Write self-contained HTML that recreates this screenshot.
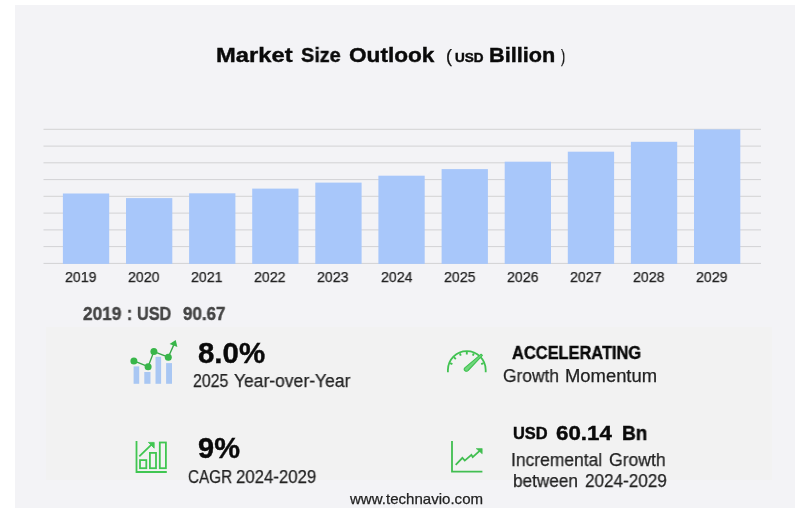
<!DOCTYPE html>
<html>
<head>
<meta charset="utf-8">
<title>Market Size Outlook</title>
<style>
html,body{margin:0;padding:0;background:#fff;}
body{width:805px;height:508px;position:relative;overflow:hidden;font-family:"Liberation Sans", sans-serif;}
#panel{position:absolute;left:15px;top:5px;width:780px;height:503px;background:#f3f3f6;}
#shade{position:absolute;left:45.5px;top:327px;width:726.5px;height:153px;background:#f2f2f2;}
.t{position:absolute;white-space:pre;line-height:1;margin:0;transform-origin:0 0;will-change:transform;-webkit-font-smoothing:antialiased;}
svg{position:absolute;left:0;top:0;}
</style>
</head>
<body>
<div id="panel"></div>
<div id="shade"></div>
<svg width="805" height="508" viewBox="0 0 805 508">
<g stroke="#d2d2d4" stroke-width="1">
<line x1="43.5" y1="129.3" x2="761" y2="129.3"/>
<line x1="43.5" y1="146.1" x2="761" y2="146.1"/>
<line x1="43.5" y1="162.8" x2="761" y2="162.8"/>
<line x1="43.5" y1="179.6" x2="761" y2="179.6"/>
<line x1="43.5" y1="196.3" x2="761" y2="196.3"/>
<line x1="43.5" y1="213.1" x2="761" y2="213.1"/>
<line x1="43.5" y1="229.9" x2="761" y2="229.9"/>
<line x1="43.5" y1="246.6" x2="761" y2="246.6"/>
<line x1="43.5" y1="263.4" x2="761" y2="263.4"/>
</g>
<g fill="#a8c7fa">
<rect x="62.9" y="193.5" width="46.3" height="70.4"/>
<rect x="126.0" y="198.1" width="46.3" height="65.8"/>
<rect x="189.1" y="193.3" width="46.3" height="70.6"/>
<rect x="252.2" y="188.6" width="46.3" height="75.3"/>
<rect x="315.3" y="182.6" width="46.3" height="81.3"/>
<rect x="378.4" y="175.7" width="46.3" height="88.2"/>
<rect x="441.6" y="169.1" width="46.3" height="94.8"/>
<rect x="504.7" y="161.7" width="46.3" height="102.2"/>
<rect x="567.8" y="151.7" width="46.3" height="112.2"/>
<rect x="630.9" y="141.8" width="46.3" height="122.1"/>
<rect x="694.0" y="129.4" width="46.3" height="134.5"/>
</g>
<!-- icon 1: bars with trend line -->
<g id="icon-yoy">
<g fill="#a9c7f3">
<rect x="133.6" y="366.4" width="5.6" height="17.4"/>
<rect x="144.3" y="372" width="6.2" height="11.8"/>
<rect x="155.5" y="356.8" width="5.6" height="27"/>
<rect x="166.1" y="363.1" width="5.9" height="20.7"/>
</g>
<polyline points="133.9,360.9 148.1,366.7 153.9,351.6 168.3,357.2 174.3,343.6" fill="none" stroke="#3aa84a" stroke-width="1.4"/>
<g fill="#38b649">
<circle cx="133.9" cy="360.9" r="3.5"/>
<circle cx="148.1" cy="366.7" r="3.5"/>
<circle cx="153.9" cy="351.6" r="3.5"/>
<circle cx="168.3" cy="357.2" r="3.5"/>
<polygon points="169.6,343.9 175.7,339.9 177.4,347.1"/>
</g>
</g>
<!-- icon 2: outline bar chart with arrow -->
<g id="icon-cagr" fill="none" stroke="#40c651" stroke-width="1.8">
<polyline points="136.5,441.1 136.5,472 166.8,472"/>
<rect x="140" y="460.1" width="6.3" height="8.1"/>
<rect x="149.9" y="452.9" width="6.1" height="15.3"/>
<rect x="159.8" y="442.5" width="6.1" height="25.7"/>
<line x1="139.3" y1="456.3" x2="153" y2="443.2"/>
<polygon points="148.4,442.4 154.2,442.4 154.2,448.2" fill="#40c651" stroke-width="0.8"/>
</g>
<!-- icon 3: gauge -->
<g id="icon-gauge" fill="none" stroke="#41c251" stroke-width="1.8">
<path d="M447.9 372.2 V370.1 A18.9 18.9 0 0 1 485.7 370.1 V372.2"/>
<g stroke-width="1.9">
<line x1="450.0" y1="363.1" x2="452.4" y2="364.1"/>
<line x1="453.9" y1="357.2" x2="455.8" y2="359.1"/>
<line x1="459.8" y1="353.3" x2="460.8" y2="355.7"/>
<line x1="466.8" y1="351.9" x2="466.8" y2="354.5"/>
<line x1="473.8" y1="353.3" x2="472.8" y2="355.7"/>
<line x1="483.6" y1="363.1" x2="481.2" y2="364.1"/>
</g>
<path d="M481.1 354.2 L482.4 355.4 L468.1 370.5 A2.1 2.1 0 0 1 464.8 367.8 Z" stroke-width="1.1" stroke-linejoin="round" fill="#6fd77c"/>
</g>
<!-- icon 4: line chart with arrow -->
<g id="icon-incr" fill="none" stroke="#41be50" stroke-width="1.8">
<polyline points="452,441.1 452,471.7 482.4,471.7"/>
<polyline points="455.7,464.8 462.4,457.9 464.8,460.6 471.4,454.8 472.7,457.1 481,449.6"/>
<polygon points="476.2,448.6 482.2,448.6 482.2,453.8" fill="#41be50" stroke-width="0.6"/>
</g>

</svg>
<div class="t" style="left:216.04px;top:45px;font-size:20.5px;font-weight:700;color:#0a0a0a;-webkit-text-stroke:0.4px #0a0a0a;transform:scaleX(1.1585)">Market</div>
<div class="t" style="left:300.90px;top:45px;font-size:20.5px;font-weight:700;color:#0a0a0a;-webkit-text-stroke:0.4px #0a0a0a;transform:scaleX(0.9707)">Size</div>
<div class="t" style="left:349.00px;top:45px;font-size:20.5px;font-weight:700;color:#0a0a0a;-webkit-text-stroke:0.4px #0a0a0a;transform:scaleX(1.1026)">Outlook</div>
<div class="t" style="left:446.24px;top:47px;font-size:18px;font-weight:400;color:#111;-webkit-text-stroke:0.25px #111;transform:scaleX(0.9600)">(</div>
<div class="t" style="left:455.20px;top:52px;font-size:12px;font-weight:700;color:#0a0a0a;-webkit-text-stroke:0.4px #0a0a0a;transform:scaleX(1.1269)">USD</div>
<div class="t" style="left:488.94px;top:45px;font-size:20.5px;font-weight:700;color:#0a0a0a;-webkit-text-stroke:0.4px #0a0a0a;transform:scaleX(1.0574)">Billion</div>
<div class="t" style="left:561.00px;top:47px;font-size:18px;font-weight:400;color:#111;-webkit-text-stroke:0.25px #111;transform:scaleX(0.7000)">)</div>
<div class="t" style="left:82.80px;top:306px;font-size:17.5px;font-weight:700;color:#444;-webkit-text-stroke:0.4px #444;transform:scaleX(0.9846)">2019</div>
<div class="t" style="left:126.83px;top:306px;font-size:17.5px;font-weight:700;color:#444;-webkit-text-stroke:0.4px #444;transform:scaleX(0.8750)">:</div>
<div class="t" style="left:137.10px;top:306px;font-size:17.5px;font-weight:700;color:#444;-webkit-text-stroke:0.4px #444;transform:scaleX(0.9270)">USD</div>
<div class="t" style="left:183.30px;top:306px;font-size:17.5px;font-weight:700;color:#444;-webkit-text-stroke:0.4px #444;transform:scaleX(0.9705)">90.67</div>
<div class="t" style="left:197.90px;top:339px;font-size:29px;font-weight:700;color:#0a0a0a;-webkit-text-stroke:0.4px #0a0a0a;transform:scaleX(1.0152)">8.0%</div>
<div class="t" style="left:193.00px;top:372px;font-size:18px;font-weight:400;color:#222;-webkit-text-stroke:0.25px #222;transform:scaleX(0.8825)">2025</div>
<div class="t" style="left:234.00px;top:372px;font-size:18px;font-weight:400;color:#222;-webkit-text-stroke:0.25px #222;transform:scaleX(0.9717)">Year-over-Year</div>
<div class="t" style="left:197.50px;top:434px;font-size:29px;font-weight:700;color:#0a0a0a;-webkit-text-stroke:0.4px #0a0a0a;transform:scaleX(0.9929)">9%</div>
<div class="t" style="left:188.00px;top:468px;font-size:18px;font-weight:400;color:#222;-webkit-text-stroke:0.25px #222;transform:scaleX(0.8490)">CAGR</div>
<div class="t" style="left:236.00px;top:468px;font-size:18px;font-weight:400;color:#222;-webkit-text-stroke:0.25px #222;transform:scaleX(0.9326)">2024-2029</div>
<div class="t" style="left:512.30px;top:345px;font-size:17.5px;font-weight:700;color:#0a0a0a;-webkit-text-stroke:0.4px #0a0a0a;transform:scaleX(0.9380)">ACCELERATING</div>
<div class="t" style="left:503.00px;top:367px;font-size:18px;font-weight:400;color:#222;-webkit-text-stroke:0.25px #222;transform:scaleX(0.9655)">Growth</div>
<div class="t" style="left:564.98px;top:367px;font-size:18px;font-weight:400;color:#222;-webkit-text-stroke:0.25px #222;transform:scaleX(1.0225)">Momentum</div>
<div class="t" style="left:513.00px;top:426px;font-size:16px;font-weight:700;color:#0a0a0a;-webkit-text-stroke:0.4px #0a0a0a;transform:scaleX(1.0265)">USD</div>
<div class="t" style="left:555.70px;top:424px;font-size:19.5px;font-weight:700;color:#0a0a0a;-webkit-text-stroke:0.4px #0a0a0a;transform:scaleX(1.1429)">60.14</div>
<div class="t" style="left:622.20px;top:424px;font-size:19.5px;font-weight:700;color:#0a0a0a;-webkit-text-stroke:0.4px #0a0a0a;transform:scaleX(0.9769)">Bn</div>
<div class="t" style="left:511.43px;top:451px;font-size:18px;font-weight:400;color:#222;-webkit-text-stroke:0.25px #222;transform:scaleX(0.9699)">Incremental</div>
<div class="t" style="left:608.90px;top:451px;font-size:18px;font-weight:400;color:#222;-webkit-text-stroke:0.25px #222;transform:scaleX(0.9759)">Growth</div>
<div class="t" style="left:513.00px;top:472px;font-size:18px;font-weight:400;color:#222;-webkit-text-stroke:0.25px #222;transform:scaleX(0.9544)">between</div>
<div class="t" style="left:584.80px;top:472px;font-size:18px;font-weight:400;color:#222;-webkit-text-stroke:0.25px #222;transform:scaleX(0.9512)">2024-2029</div>
<div class="t" style="left:349.90px;top:492px;font-size:14.5px;font-weight:400;color:#222;-webkit-text-stroke:0.25px #222;transform:scaleX(1.0383)">www.technavio.com</div>
<div class="t" style="left:65.20px;top:269px;font-size:15px;font-weight:400;color:#222;-webkit-text-stroke:0.25px #222;transform:scaleX(0.9455)">2019</div>
<div class="t" style="left:128.27px;top:269px;font-size:15px;font-weight:400;color:#222;-webkit-text-stroke:0.25px #222;transform:scaleX(0.9455)">2020</div>
<div class="t" style="left:191.34px;top:269px;font-size:15px;font-weight:400;color:#222;-webkit-text-stroke:0.25px #222;transform:scaleX(0.9455)">2021</div>
<div class="t" style="left:254.41px;top:269px;font-size:15px;font-weight:400;color:#222;-webkit-text-stroke:0.25px #222;transform:scaleX(0.9455)">2022</div>
<div class="t" style="left:317.48px;top:269px;font-size:15px;font-weight:400;color:#222;-webkit-text-stroke:0.25px #222;transform:scaleX(0.9455)">2023</div>
<div class="t" style="left:380.55px;top:269px;font-size:15px;font-weight:400;color:#222;-webkit-text-stroke:0.25px #222;transform:scaleX(0.9455)">2024</div>
<div class="t" style="left:443.62px;top:269px;font-size:15px;font-weight:400;color:#222;-webkit-text-stroke:0.25px #222;transform:scaleX(0.9455)">2025</div>
<div class="t" style="left:506.69px;top:269px;font-size:15px;font-weight:400;color:#222;-webkit-text-stroke:0.25px #222;transform:scaleX(0.9455)">2026</div>
<div class="t" style="left:569.76px;top:269px;font-size:15px;font-weight:400;color:#222;-webkit-text-stroke:0.25px #222;transform:scaleX(0.9455)">2027</div>
<div class="t" style="left:632.83px;top:269px;font-size:15px;font-weight:400;color:#222;-webkit-text-stroke:0.25px #222;transform:scaleX(0.9455)">2028</div>
<div class="t" style="left:695.90px;top:269px;font-size:15px;font-weight:400;color:#222;-webkit-text-stroke:0.25px #222;transform:scaleX(0.9455)">2029</div>
</body>
</html>
